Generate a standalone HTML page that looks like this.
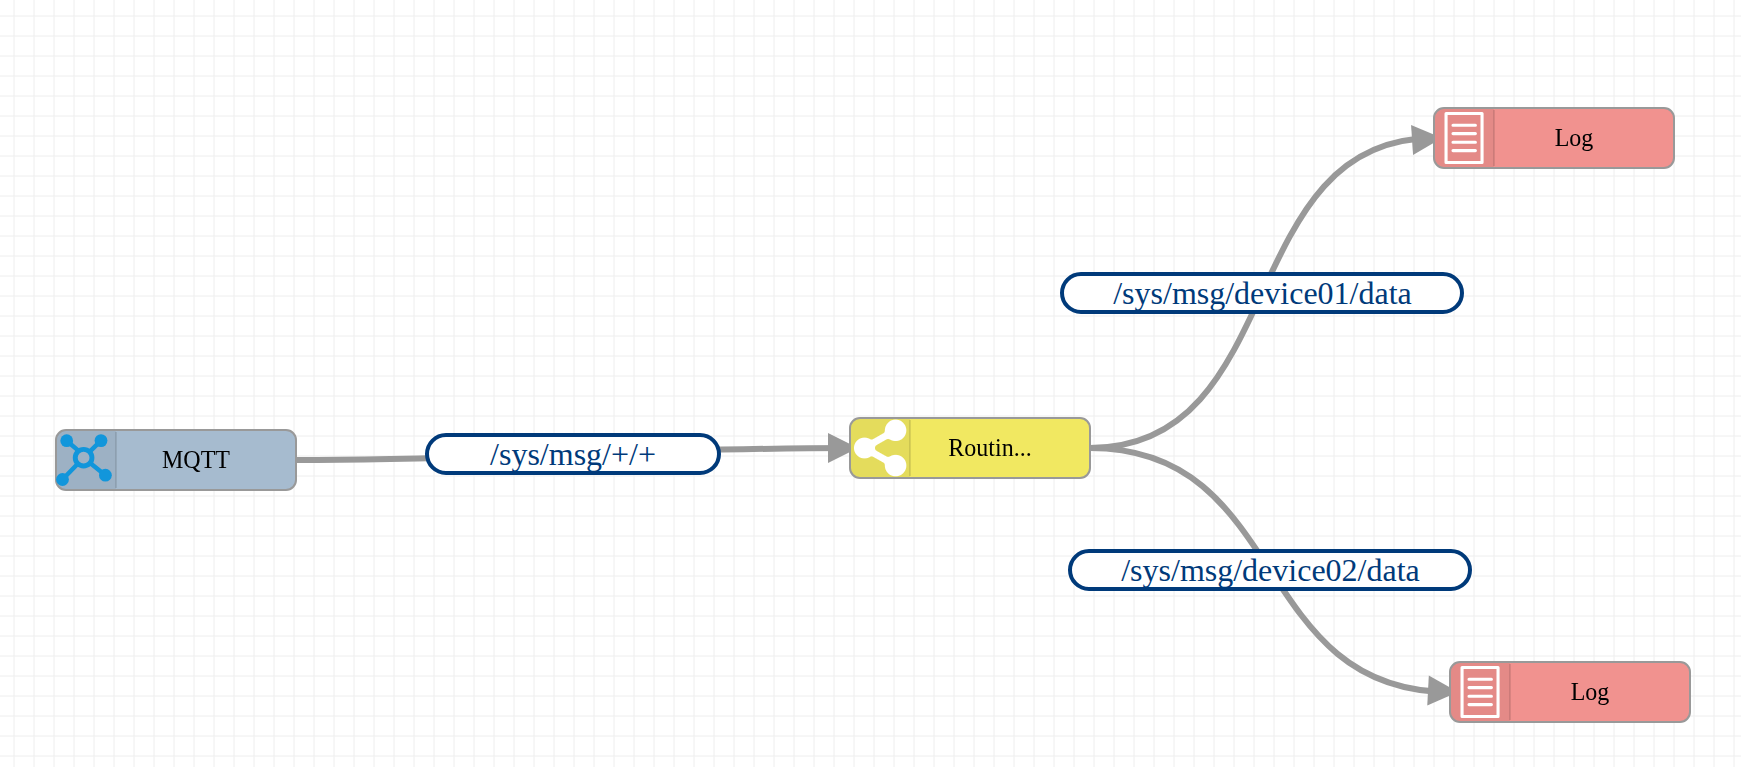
<!DOCTYPE html>
<html lang="en"><head><meta charset="utf-8"><title>MQTT routing flow</title>
<style>
html,body{margin:0;padding:0;background:#fff;overflow:hidden}
svg{display:block}
text{font-family:"Liberation Serif","Times New Roman",serif}
.nl{font-size:24px;fill:#000;text-anchor:middle;filter:grayscale(1)}
.el{font-size:32px;fill:#003a7a;text-anchor:middle}
.edge{fill:none;stroke:#999;stroke-width:6}
.arr{fill:#999}
.pill{fill:#fff;stroke:#003a7a;stroke-width:4}
.node{stroke:#999;stroke-width:2}
.shade{fill:#000;fill-opacity:.05}
.sep{stroke:#000;stroke-opacity:.1;stroke-width:2;fill:none}
</style></head><body>
<svg width="1741" height="767" viewBox="0 0 1741 767">
<defs>
<pattern id="grid" x="4" y="6" width="20" height="20" patternUnits="userSpaceOnUse">
<path d="M10 0V20M0 10H20" fill="none" stroke="#eee" stroke-width="1"/>
</pattern>
<filter id="goo" x="-10%" y="-10%" width="120%" height="120%" color-interpolation-filters="sRGB">
<feGaussianBlur stdDeviation="1.2"/>
<feComponentTransfer><feFuncA type="linear" slope="3" intercept="-1"/></feComponentTransfer>
</filter>
</defs>
<rect width="1741" height="767" fill="#fff"/>
<rect width="1741" height="767" fill="url(#grid)"/>

<g id="edges">
<path class="edge" d="M296 460C496 460 650 448 850 448"/>
<polygon class="arr" points="828.03,463.07 858.00,448.00 827.97,433.07"/>
<path class="edge" d="M1090 448C1290 448 1234 138 1434 138"/>
<polygon class="arr" points="1413.05,154.93 1442.00,138.00 1411.08,124.99"/>
<path class="edge" d="M1090 448C1290 448 1250 692 1450 692"/>
<polygon class="arr" points="1427.27,705.45 1458.00,692.00 1428.81,675.49"/>
</g>
<g><rect class="pill" x="427" y="435" width="292" height="38" rx="19" ry="19"/><text class="el" x="573" y="465">/sys/msg/+/+</text></g>
<g><rect class="pill" x="1062" y="274" width="400" height="38" rx="19" ry="19"/><text class="el" x="1262.5" y="304">/sys/msg/device01/data</text></g>
<g><rect class="pill" x="1070" y="551" width="400" height="38" rx="19" ry="19"/><text class="el" x="1270.5" y="581">/sys/msg/device02/data</text></g>
<g transform="translate(56,430)"><rect class="node" x="0" y="0" width="240" height="60" rx="10" ry="10" fill="#a6bbcf"/><path class="shade" d="M10 1H60V59H10A9 9 0 0 1 1 50V10A9 9 0 0 1 10 1Z"/><g fill="#1296db" stroke="#1296db"><path d="M10.7 10.7L23.2 21.4M45 10.6L27.6 27.7M6.5 49.5L27.6 27.7M49.4 45.2L27.6 27.7" stroke-width="4.5" fill="none"/><circle cx="10.7" cy="10.7" r="6.4" stroke="none"/><circle cx="45" cy="10.6" r="6.4" stroke="none"/><circle cx="6.5" cy="49.5" r="6.4" stroke="none"/><circle cx="49.4" cy="45.2" r="6.4" stroke="none"/><circle cx="27.6" cy="27.7" r="8.35" stroke-width="4.9" fill="#9eb2c5"/></g><path class="sep" d="M60 2V58"/><text class="nl" transform="translate(140,38) scale(1,1.04)">MQTT</text></g>
<g transform="translate(850,418)"><rect class="node" x="0" y="0" width="240" height="60" rx="10" ry="10" fill="#f1e861"/><path class="shade" d="M10 1H60V59H10A9 9 0 0 1 1 50V10A9 9 0 0 1 10 1Z"/><g fill="#fff" stroke="#fff" filter="url(#goo)"><path d="M45.6 12.3L14.5 30L45.6 47.5" stroke-width="6.8" fill="none" stroke-linejoin="round"/><circle cx="14.5" cy="30" r="10.6" stroke="none"/><circle cx="45.6" cy="12.3" r="10.8" stroke="none"/><circle cx="45.6" cy="47.5" r="10.8" stroke="none"/></g><path class="sep" d="M60 2V58"/><text class="nl" transform="translate(140,38) scale(1,1.04)">Routin...</text></g>
<g transform="translate(1434,108)"><rect class="node" x="0" y="0" width="240" height="60" rx="10" ry="10" fill="#f1928f"/><path class="shade" d="M10 1H60V59H10A9 9 0 0 1 1 50V10A9 9 0 0 1 10 1Z"/><g fill="none" stroke="#fff"><rect x="12.05" y="5.45" width="36" height="49.1" stroke-width="3.1" stroke-linejoin="round"/><path d="M19 17.2H41.4M19 25.6H41.4M19 34.2H41.4M19 42.6H41.4" stroke-width="3.1" stroke-linecap="round"/></g><path class="sep" d="M60 2V58"/><text class="nl" transform="translate(140,38) scale(1,1.04)">Log</text></g>
<g transform="translate(1450,662)"><rect class="node" x="0" y="0" width="240" height="60" rx="10" ry="10" fill="#f1928f"/><path class="shade" d="M10 1H60V59H10A9 9 0 0 1 1 50V10A9 9 0 0 1 10 1Z"/><g fill="none" stroke="#fff"><rect x="12.05" y="5.45" width="36" height="49.1" stroke-width="3.1" stroke-linejoin="round"/><path d="M19 17.2H41.4M19 25.6H41.4M19 34.2H41.4M19 42.6H41.4" stroke-width="3.1" stroke-linecap="round"/></g><path class="sep" d="M60 2V58"/><text class="nl" transform="translate(140,38) scale(1,1.04)">Log</text></g>
</svg></body></html>
